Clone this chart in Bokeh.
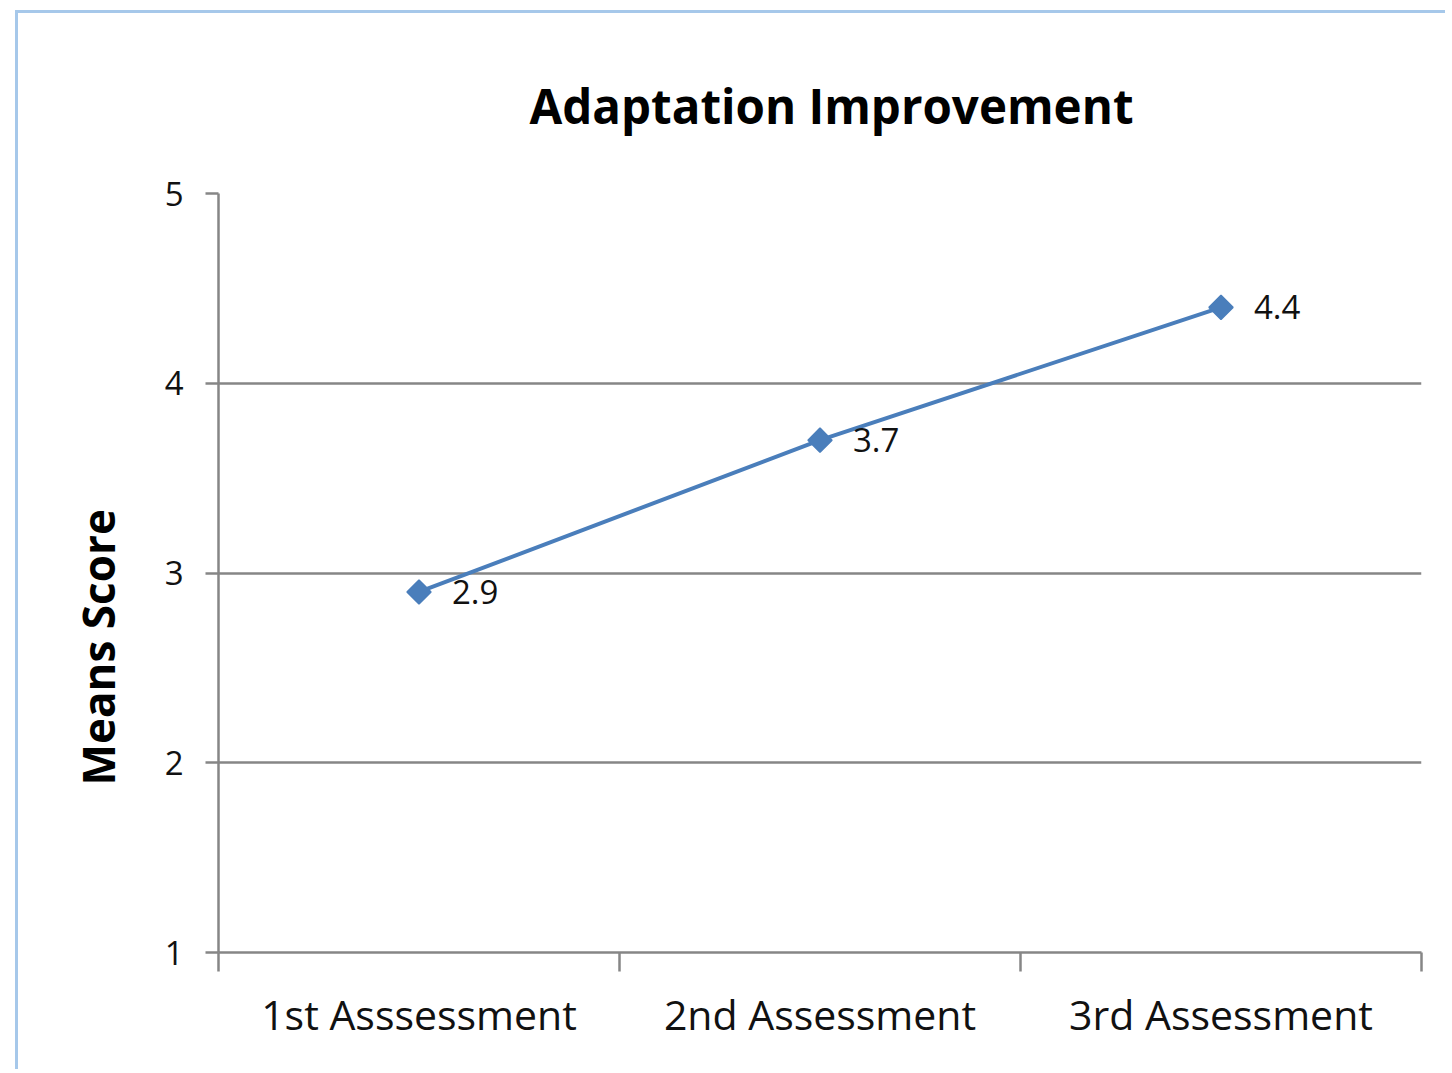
from bokeh.plotting import figure
from bokeh.models import FixedTicker, ColumnDataSource, Range1d, LabelSet
from bokeh.core.properties import value
from bokeh.embed import file_html
from bokeh.resources import INLINE
import math

categories = ["1st Asssessment", "2nd Assessment", "3rd Assessment"]
mean_scores = [2.9, 3.7, 4.4]
y_ticks = [1, 2, 3, 4, 5]
title_text = "Adaptation Improvement"
y_title = "Means Score"

xs = [i + 0.5 for i in range(len(categories))]
src = ColumnDataSource(dict(x=xs, y=mean_scores, lbl=[f"{v:.1f}" for v in mean_scores]))

p = figure(width=1430, height=1059, output_backend="svg", toolbar_location=None,
           x_range=Range1d(0, len(categories)), y_range=Range1d(min(y_ticks), max(y_ticks)),
           min_border_left=200, min_border_right=27, min_border_top=180, min_border_bottom=120)
p.outline_line_color = None
p.background_fill_color = "white"
p.border_fill_color = "white"
p.margin = (10, 0, 0, 15)
p.styles = {"border-left": "3px solid #a6c8ea", "border-top": "3px solid #a6c8ea"}

GRID = "#868686"
BLUE = "#4a7ebb"
FONT = "Open Sans"

p.xgrid.visible = False
p.ygrid.grid_line_color = GRID
p.ygrid.grid_line_width = 2.5
p.ygrid.ticker = FixedTicker(ticks=y_ticks)

xa = p.xaxis[0]
xa.ticker = FixedTicker(ticks=xs, minor_ticks=list(range(len(categories) + 1)))
xa.major_label_overrides = {x: c for x, c in zip(xs, categories)}
xa.major_tick_out = 0
xa.major_tick_in = 0
xa.minor_tick_out = 19
xa.minor_tick_in = 0
xa.minor_tick_line_color = GRID
xa.minor_tick_line_width = 2.5
xa.axis_line_color = GRID
xa.axis_line_width = 2.5
xa.major_label_text_font = FONT
xa.major_label_text_font_size = "41px"
xa.major_label_text_color = "#111111"
xa.major_label_standoff = 14

ya = p.yaxis[0]
ya.ticker = FixedTicker(ticks=y_ticks)
ya.major_tick_out = 13
ya.major_tick_in = 0
ya.minor_tick_line_color = None
ya.major_tick_line_color = GRID
ya.major_tick_line_width = 2.5
ya.axis_line_color = GRID
ya.axis_line_width = 2.5
ya.major_label_text_font = FONT
ya.major_label_text_font_size = "33px"
ya.major_label_text_color = "#111111"
ya.major_label_standoff = 22
ya.axis_label = y_title + "\u00a0" * 13
ya.axis_label_text_font = FONT
ya.axis_label_text_font_style = "bold"
ya.axis_label_text_font_size = "44px"
ya.axis_label_text_color = "black"
ya.axis_label_standoff = 34

p.line("x", "y", source=src, line_color=BLUE, line_width=4)
p.scatter("x", "y", source=src, marker="square", angle=math.pi / 4, size=17,
          fill_color=BLUE, line_color=BLUE, line_width=1.5)

labels = LabelSet(x="x", y="y", text="lbl", source=src, x_offset=33, y_offset=0,
                  text_align="left", text_baseline="middle", text_font=value(FONT),
                  text_font_size=value("33px"), text_color="#111111")
p.add_layout(labels)

p.title.text = title_text
p.title.align = "left"
p.title.text_font = FONT
p.title.text_font_style = "bold"
p.title.text_font_size = "47.5px"
p.title.text_color = "black"
p.title.standoff = 112
p.title.offset = 311

open("out.html", "w").write(file_html(p, INLINE))
